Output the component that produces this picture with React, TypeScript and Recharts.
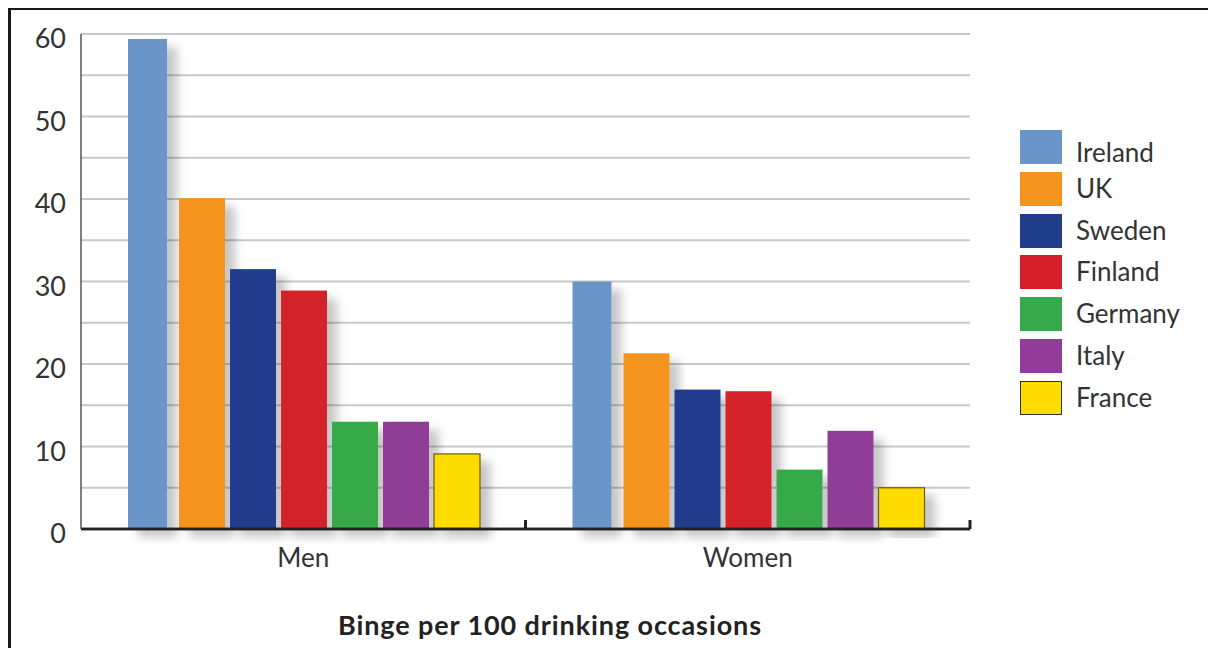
import React from 'react';
import { BarChart, Bar, XAxis, YAxis, CartesianGrid } from 'recharts';

const categories = ['Men', 'Women'];
const ireland = [59.4, 30.0];
const uk = [40.1, 21.3];
const sweden = [31.5, 16.9];
const finland = [28.9, 16.7];
const germany = [13.0, 7.2];
const italy = [13.0, 11.9];
const france = [9.1, 5.0];

const countries = ['Ireland', 'UK', 'Sweden', 'Finland', 'Germany', 'Italy', 'France'];
const seriesValues = [ireland, uk, sweden, finland, germany, italy, france];
const colors = ['#6a95c8', '#f4941e', '#213e8d', '#d42029', '#38a94a', '#903c98', '#fedc00'];

const yTicks = [0, 5, 10, 15, 20, 25, 30, 35, 40, 45, 50, 55, 60];
const yLabelled = [0, 10, 20, 30, 40, 50, 60];
const boundaryTicks = [1, 2];
const title = 'Binge per 100 drinking occasions';

const data = categories.map((c, i) => {
  const row: any = { category: c, pos: i + 0.5 };
  countries.forEach((name, k) => {
    row[name] = seriesValues[k][i];
  });
  return row;
});

const FONT = 'Lato, "DejaVu Sans", sans-serif';

const makeShape = (narrow: number, stroke?: string) => (p: any) => {
  if (p.height == null || p.width == null) return <g />;
  return (
    <rect
      x={p.x}
      y={p.y}
      width={Math.max(0, p.width - narrow)}
      height={p.height}
      fill={p.fill}
      stroke={stroke || 'none'}
      strokeWidth={stroke ? 1.2 : 0}
      filter="url(#barShadow)"
    />
  );
};

const YTick = (props: any) => {
  const { x, y, payload } = props;
  if (!yLabelled.includes(payload.value)) return <g />;
  return (
    <text x={x} y={y} dy={14} textAnchor="end" fontSize={27} fill="#333" fontFamily={FONT}>
      {payload.value}
    </text>
  );
};

export default function App() {
  return (
    <div style={{ position: 'relative', width: 1208, height: 640, fontFamily: FONT, overflow: 'hidden' }}>
      <div style={{ position: 'absolute', left: 0, top: -1, width: 1208, height: 3, background: '#1a1a1a' }} />
      <div style={{ position: 'absolute', left: 0, top: -1, width: 3, height: 641, background: '#1a1a1a' }} />
      <div style={{ position: 'absolute', left: 0, top: 0 }}>
        <BarChart
          width={1208}
          height={640}
          data={data}
          margin={{ top: 26, right: 246, left: 13, bottom: 89 }}
          barCategoryGap={47}
          barGap={5}
        >
          <defs>
            <filter id="barShadow" x="-30%" y="-10%" width="180%" height="130%">
              <feDropShadow dx="10" dy="8" stdDeviation="5" floodColor="#000" floodOpacity="0.22" />
            </filter>
          </defs>
          <CartesianGrid vertical={false} stroke="#c8c8c8" strokeWidth={2} />
          <XAxis
            xAxisId="frame"
            dataKey="pos"
            type="number"
            domain={[0, categories.length]}
            allowDataOverflow
            ticks={boundaryTicks}
            height={1}
            mirror
            tickSize={9}
            tickFormatter={() => ''}
            axisLine={{ stroke: '#222', strokeWidth: 2.5 }}
            tickLine={{ stroke: '#222', strokeWidth: 3 }}
          />
          <XAxis
            xAxisId="cat"
            dataKey="category"
            height={30}
            axisLine={{ stroke: '#222', strokeWidth: 2.5 }}
            tickLine={false}
            tickSize={0}
            tickMargin={20}
            tick={{ fontSize: 26, fill: '#333', fontFamily: FONT }}
          />
          <YAxis
            width={60}
            domain={[0, 60]}
            ticks={yTicks}
            interval={0}
            tickLine={false}
            tickSize={0}
            tickMargin={15}
            axisLine={{ stroke: '#555', strokeWidth: 1.5 }}
            tick={<YTick />}
          />
          {countries.map((name, k) => (
            <Bar
              key={name}
              xAxisId="cat"
              dataKey={name}
              fill={colors[k]}
              isAnimationActive={false}
              shape={makeShape(k === 0 ? 7 : 0, name === 'France' ? '#6b5a00' : undefined)}
            />
          ))}
        </BarChart>
      </div>
      {countries.map((name, k) => (
        <div
          key={name}
          style={{ position: 'absolute', left: 1012, top: 122 + k * 41.8, height: 34, display: 'flex', alignItems: 'center' }}
        >
          <div
            style={{
              width: 42,
              height: 34,
              boxSizing: 'border-box',
              background: colors[k],
              border: name === 'France' ? '1.5px solid #333' : 'none',
            }}
          />
          <div style={{ marginLeft: 14, fontSize: 26, color: '#333', lineHeight: '34px', marginTop: k === 0 ? 10 : -2 }}>{name}</div>
        </div>
      ))}
      <div
        style={{
          position: 'absolute',
          left: 192,
          width: 700,
          top: 602,
          height: 30,
          lineHeight: '30px',
          textAlign: 'center',
          fontSize: 27,
          fontWeight: 700,
          letterSpacing: 0.9,
          color: '#222',
        }}
      >
        {title}
      </div>
    </div>
  );
}
